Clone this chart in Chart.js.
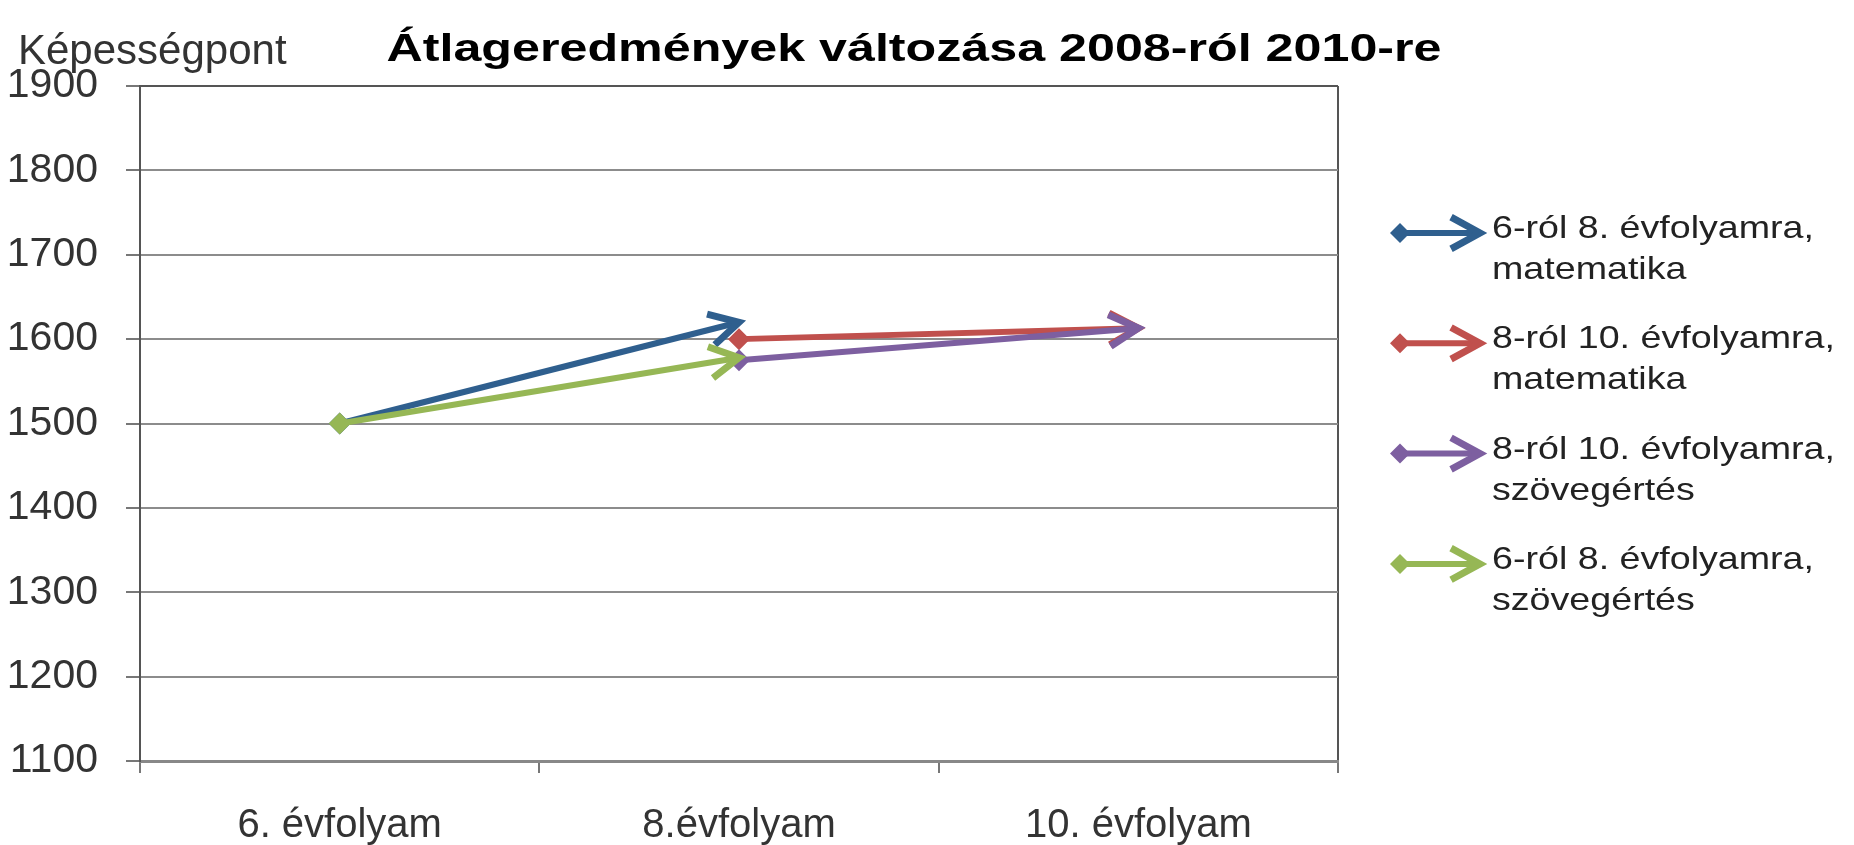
<!DOCTYPE html>
<html>
<head>
<meta charset="utf-8">
<title>Átlageredmények változása 2008-ról 2010-re</title>
<script src="https://cdn.jsdelivr.net/npm/chart.js@4.4.1/dist/chart.umd.min.js"></script>
<style>
  html, body { margin: 0; padding: 0; background: #fff; }
  #wrap { width: 1854px; height: 845px; position: relative; }
</style>
</head>
<body>
<div id="wrap"><canvas id="mycanvas"></canvas></div>
<script>
// data
var categories = ['6. évfolyam', '8.évfolyam', '10. évfolyam'];
var matek6to8 = [1500, 1620, null];
var matek8to10 = [null, 1600, 1613];
var szoveg8to10 = [null, 1575, 1613];
var szoveg6to8 = [1500, 1578, null];
var yTicks = [1100, 1200, 1300, 1400, 1500, 1600, 1700, 1800, 1900];
var seriesNames = [
  ['6-ról 8. évfolyamra,', 'matematika'],
  ['8-ról 10. évfolyamra,', 'matematika'],
  ['8-ról 10. évfolyamra,', 'szövegértés'],
  ['6-ról 8. évfolyamra,', 'szövegértés']
];
var chartTitle = 'Átlageredmények változása 2008-ról 2010-re';
var yTitle = 'Képességpont';

var colors = ['#2f5f8e', '#c0504d', '#7d5fa0', '#96b755'];
var FONT = "'Liberation Sans', Arial, sans-serif";

function firstIndex(arr) {
  for (var i = 0; i < arr.length; i++) if (arr[i] !== null) return i;
  return -1;
}

function drawHead(ctx, x, y, ang, color) {
  var len = 33, spread = 0.5;
  ctx.save();
  ctx.strokeStyle = color;
  ctx.lineWidth = 7;
  ctx.lineJoin = 'miter';
  ctx.lineCap = 'butt';
  ctx.beginPath();
  ctx.moveTo(x - len * Math.cos(ang - spread), y - len * Math.sin(ang - spread));
  ctx.lineTo(x, y);
  ctx.lineTo(x - len * Math.cos(ang + spread), y - len * Math.sin(ang + spread));
  ctx.stroke();
  ctx.restore();
}

function drawDiamond(ctx, x, y, r, color) {
  ctx.save();
  ctx.fillStyle = color;
  ctx.beginPath();
  ctx.moveTo(x - r, y);
  ctx.lineTo(x, y - r);
  ctx.lineTo(x + r, y);
  ctx.lineTo(x, y + r);
  ctx.closePath();
  ctx.fill();
  ctx.restore();
}

function stretchText(ctx, text, x, y, sx) {
  ctx.save();
  ctx.translate(x, y);
  ctx.scale(sx, 1);
  ctx.fillText(text, 0, 0);
  ctx.restore();
}

var arrowPlugin = {
  id: 'arrows',
  afterDatasetDraw: function(chart, args) {
    var ds = chart.data.datasets[args.index];
    var pts = [];
    args.meta.data.forEach(function(p, i) {
      if (ds.data[i] !== null) pts.push(p);
    });
    if (pts.length < 2) return;
    var a = pts[pts.length - 2], b = pts[pts.length - 1];
    drawHead(chart.ctx, b.x, b.y, Math.atan2(b.y - a.y, b.x - a.x), ds.borderColor);
  },
  afterDraw: function(chart) {
    var ctx = chart.ctx;
    ctx.save();
    ctx.textBaseline = 'alphabetic';

    // title
    ctx.fillStyle = '#000';
    ctx.font = 'bold 39px ' + FONT;
    ctx.textAlign = 'left';
    var tw = ctx.measureText(chartTitle).width;
    stretchText(ctx, chartTitle, 914 - 1055 / 2, 61, 1055 / tw);

    // axis title
    ctx.fillStyle = '#333';
    ctx.font = '42px ' + FONT;
    ctx.fillText(yTitle, 18, 64);

    // legend
    ctx.font = '32px ' + FONT;
    ctx.fillStyle = '#222';
    var lsx = 322 / ctx.measureText(seriesNames[0][0]).width;
    for (var i = 0; i < seriesNames.length; i++) {
      var base = 238 + i * 110.3;
      var sy = base - 5;
      ctx.save();
      ctx.strokeStyle = colors[i];
      ctx.lineWidth = 6;
      ctx.beginPath();
      ctx.moveTo(1400, sy);
      ctx.lineTo(1478, sy);
      ctx.stroke();
      ctx.restore();
      drawDiamond(ctx, 1400, sy, 10, colors[i]);
      drawHead(ctx, 1480, sy, 0, colors[i]);
      stretchText(ctx, seriesNames[i][0], 1492, base, lsx);
      stretchText(ctx, seriesNames[i][1], 1492, base + 41, lsx);
    }
    ctx.restore();
  }
};

var seriesData = [matek6to8, matek8to10, szoveg8to10, szoveg6to8];
var datasets = seriesData.map(function(d, i) {
  return {
    label: seriesNames[i].join(' '),
    data: d,
    borderColor: colors[i],
    backgroundColor: colors[i],
    borderWidth: 6,
    fill: false,
    tension: 0,
    order: seriesData.length - i,
    pointStyle: 'rectRot',
    pointBorderWidth: 0,
    pointBackgroundColor: colors[i],
    pointRadius: function(c) { return c.dataIndex === firstIndex(c.dataset.data) ? 11 : 0; },
    pointHoverRadius: function(c) { return c.dataIndex === firstIndex(c.dataset.data) ? 11 : 0; }
  };
});

var ctx = document.getElementById('mycanvas');
var chart = new Chart(ctx, {
  type: 'line',
  data: { labels: categories, datasets: datasets },
  options: {
    responsive: true,
    maintainAspectRatio: false,
    animation: false,
    events: [],
    layout: { padding: { top: 86, right: 516, bottom: 0, left: 0 } },
    plugins: {
      legend: { display: false },
      title: { display: false },
      tooltip: { enabled: false }
    },
    scales: {
      x: {
        type: 'category',
        offset: true,
        afterFit: function(scale) { scale.height = 84; },
        grid: {
          offset: true,
          drawOnChartArea: true,
          color: function(c) { return c.type === 'scale' ? '#555' : 'rgba(0,0,0,0)'; },
          tickColor: '#777',
          lineWidth: 2,
          tickLength: 12
        },
        border: { display: true, color: '#888', width: 3 },
        ticks: {
          color: '#333',
          font: { family: FONT, size: 40 },
          padding: 29,
          maxRotation: 0,
          autoSkip: false
        }
      },
      y: {
        min: 1100,
        max: 1900,
        afterFit: function(scale) { scale.width = 140; },
        afterBuildTicks: function(axis) {
          axis.ticks = yTicks.map(function(v) { return { value: v }; });
        },
        grid: {
          color: function(c) { return c.tick && c.tick.value === 1900 ? '#555' : '#8c8c8c'; },
          tickColor: '#777',
          lineWidth: 2,
          tickLength: 14
        },
        border: { display: true, color: '#555', width: 2 },
        ticks: {
          color: '#333',
          font: { family: FONT, size: 41 },
          padding: 28,
          callback: function(v) { return String(v); }
        }
      }
    }
  },
  plugins: [arrowPlugin]
});
</script>
</body>
</html>
